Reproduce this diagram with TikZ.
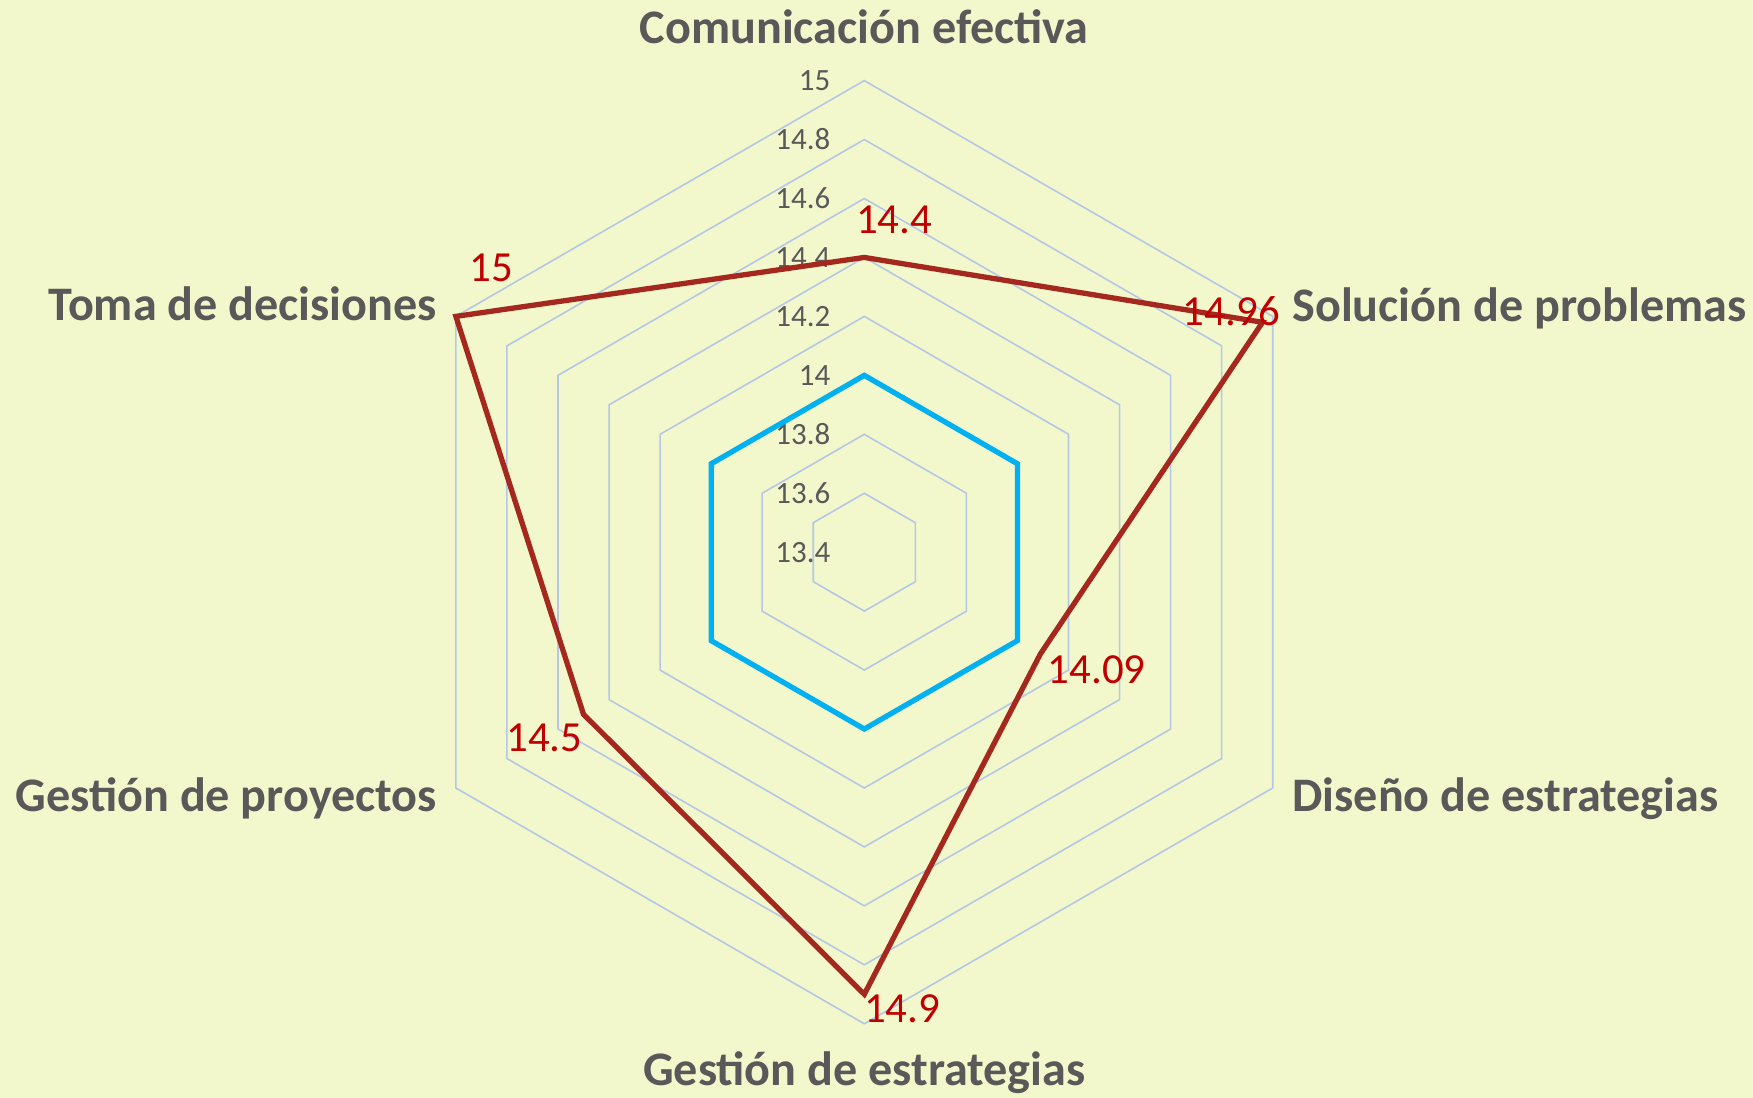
\documentclass[tikz,border=0pt]{standalone}
\usepackage{fontspec}
\setmainfont{Carlito}
\definecolor{chartbg}{HTML}{F2F8CB}
\definecolor{gridblue}{HTML}{B4C7E7}
\definecolor{redline}{HTML}{A5281E}
\definecolor{blueline}{HTML}{00B0F0}
\definecolor{valred}{HTML}{C00000}
\definecolor{axisgray}{HTML}{595959}
\newcommand{\unitR}{2.9475}

\begin{document}
\begin{tikzpicture}[
  gridline/.style={draw=gridblue, line width=0.45pt},
  axislabel/.style={text=axisgray, font=\fontsize{13.7}{16}\selectfont\bfseries, inner sep=0pt},
  ticklabel/.style={text=axisgray, font=\fontsize{8.8}{10}\selectfont, inner sep=0pt, anchor=east},
  vallabel/.style={text=valred, font=\fontsize{12.2}{14}\selectfont, inner sep=0pt},
  serie/.style={line width=1.5pt}]
\fill[chartbg] (-8.643,-5.458) rectangle (8.887,5.522);
\useasboundingbox (-8.643,-5.458) rectangle (8.887,5.522);

% rings
\foreach \k in {1,...,8}
  \draw[gridline] (90:{\k*0.5895}) -- (30:{\k*0.5895}) -- (-30:{\k*0.5895}) -- (-90:{\k*0.5895}) -- (-150:{\k*0.5895}) -- (150:{\k*0.5895}) -- cycle;

% scale
\foreach \k/\t in {0/13.4,1/13.6,2/13.8,3/14,4/14.2,5/14.4,6/14.6,7/14.8,8/15}
  \node[ticklabel] (tick\k) at (-0.333,{\k*0.5895}) {\t};

% points
\coordinate (com) at (90:{(14.4-13.4)*\unitR});
\coordinate (sol) at (30:{(14.96-13.4)*\unitR});
\coordinate (dis) at (-30:{(14.09-13.4)*\unitR});
\coordinate (ges) at (-90:{(14.9-13.4)*\unitR});
\coordinate (pro) at (-150:{(14.5-13.4)*\unitR});
\coordinate (tom) at (150:{(15-13.4)*\unitR});

\coordinate (com-b) at (90:{0.6*\unitR});
\coordinate (sol-b) at (30:{0.6*\unitR});
\coordinate (dis-b) at (-30:{0.6*\unitR});
\coordinate (ges-b) at (-90:{0.6*\unitR});
\coordinate (pro-b) at (-150:{0.6*\unitR});
\coordinate (tom-b) at (150:{0.6*\unitR});

\draw[serie, blueline] (com-b) -- (sol-b) -- (dis-b) -- (ges-b) -- (pro-b) -- (tom-b) -- cycle;
\draw[serie, redline] (com) -- (sol) -- (dis) -- (ges) -- (pro) -- (tom) -- cycle;

% values
\node[vallabel] (v-com) at (0.299,3.327) {14.4};
\node[vallabel] (v-sol) at (3.670,2.412) {14.96};
\node[vallabel] (v-dis) at (2.324,-1.178) {14.09};
\node[vallabel] (v-ges) at (0.379,-4.561) {14.9};
\node[vallabel] (v-pro) at (-3.200,-1.858) {14.5};
\node[vallabel] (v-tom) at (-3.730,2.844) {15};

% axis names
\node[axislabel, anchor=base] (l-com) at (0,5.089) {Comunicación efectiva};
\node[axislabel, anchor=base west] (l-sol) at (4.274,2.305) {Solución de problemas};
\node[axislabel, anchor=base west] (l-dis) at (4.274,-2.595) {Diseño de estrategias};
\node[axislabel, anchor=base] (l-ges) at (0,-5.33) {Gestión de estrategias};
\node[axislabel, anchor=base east] (l-pro) at (-4.266,-2.595) {Gestión de proyectos};
\node[axislabel, anchor=base east] (l-tom) at (-4.266,2.312) {Toma de decisiones};
\end{tikzpicture}
\end{document}
